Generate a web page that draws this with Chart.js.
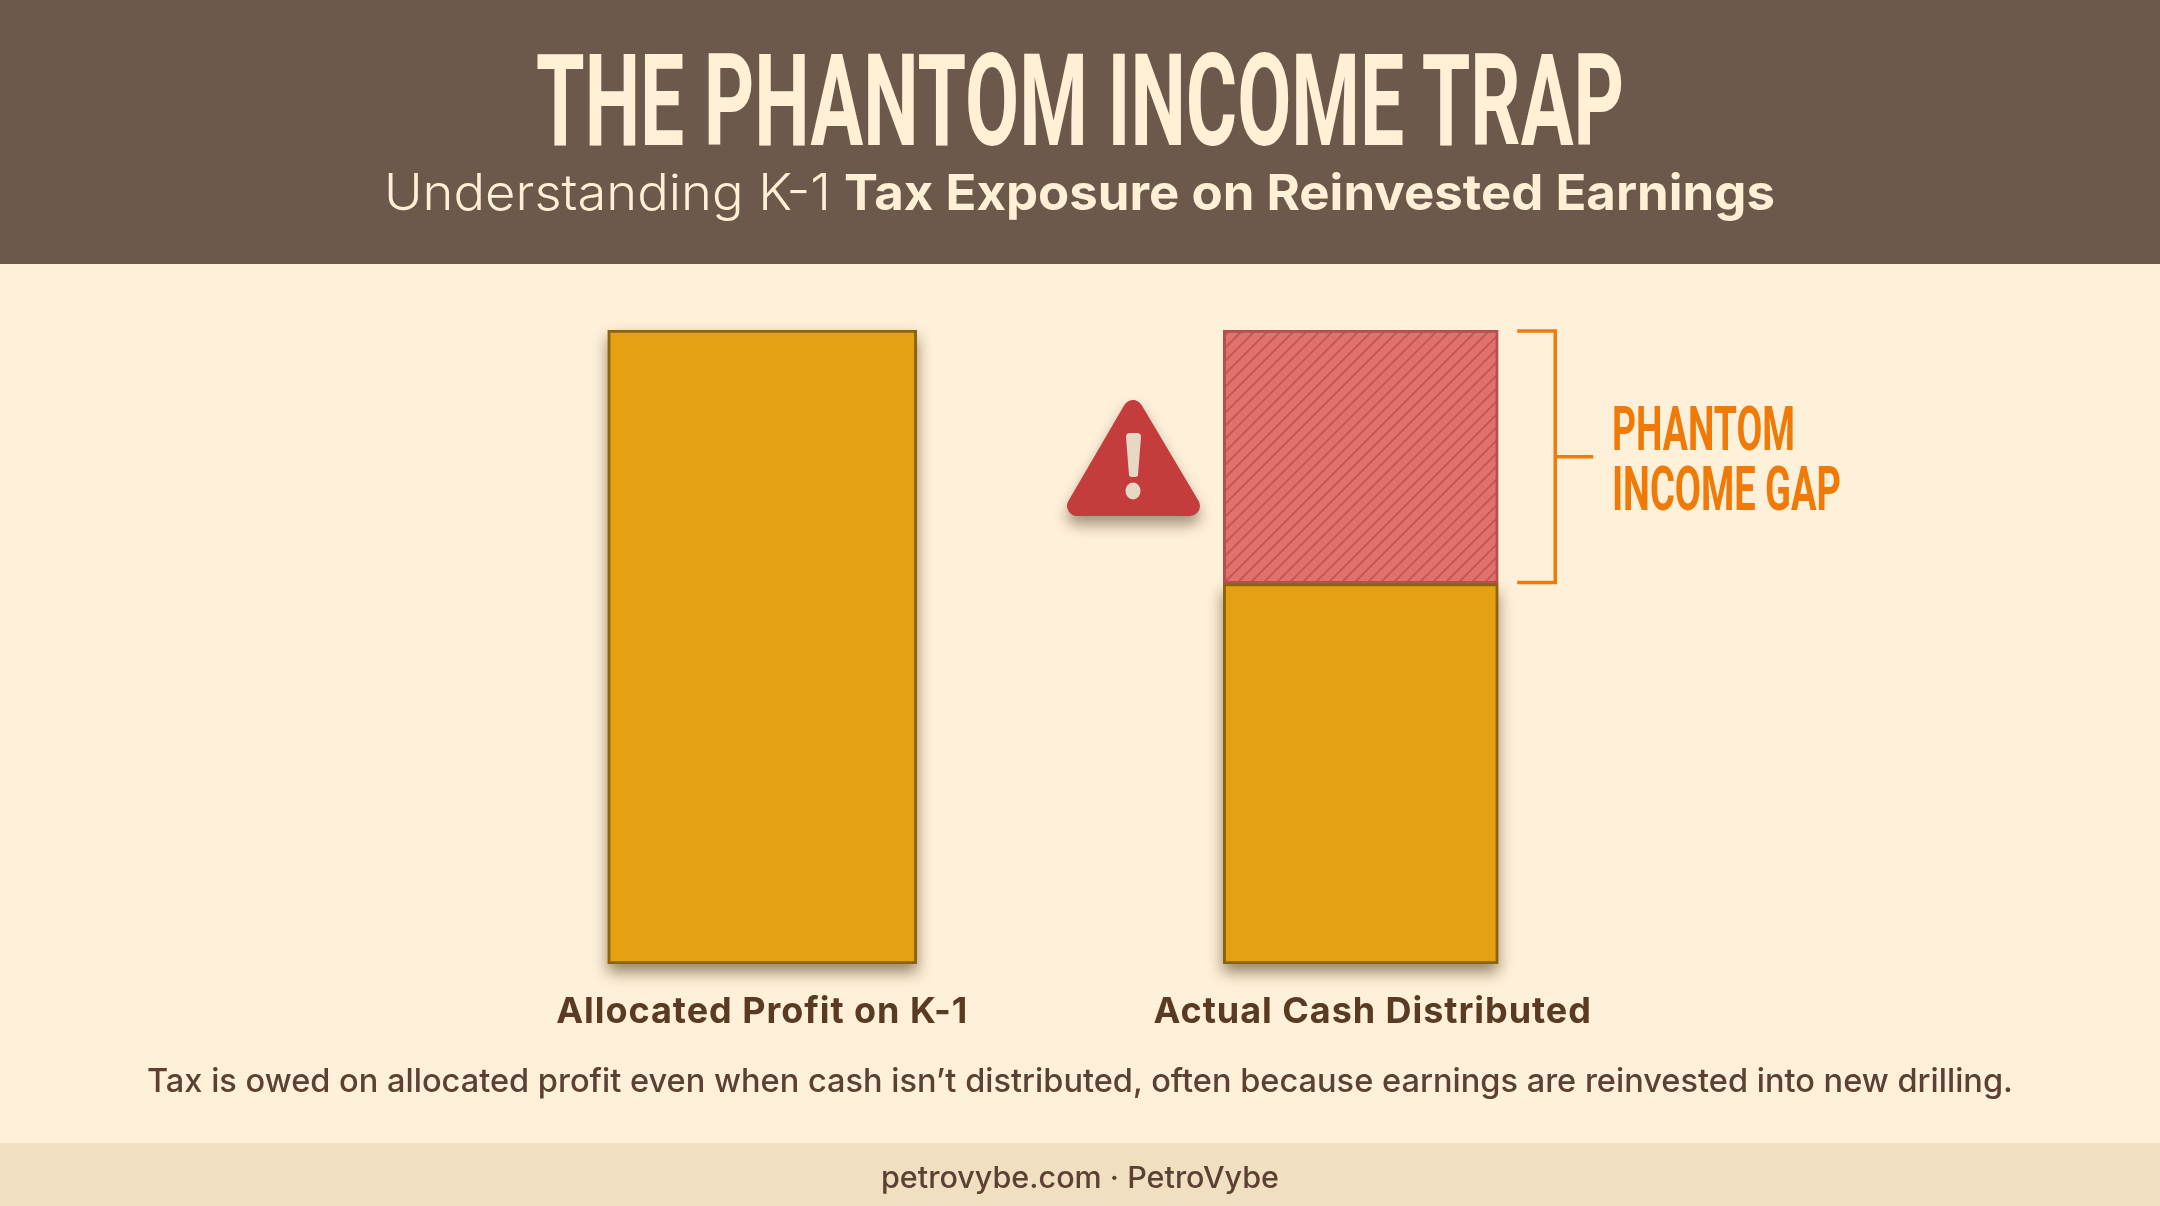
<!DOCTYPE html>
<html>
<head>
<meta charset="utf-8">
<script src="https://cdn.jsdelivr.net/npm/chart.js@4/dist/chart.umd.min.js"></script>
<style>
html, body { margin: 0; padding: 0; }
body { width: 2160px; height: 1206px; position: relative; overflow: hidden; background: #fef0d9; }
#header { position: absolute; left: 0; top: 0; width: 2160px; height: 264px; background: #6d594b; }
#footer { position: absolute; left: 0; top: 1143px; width: 2160px; height: 63px; background: #f0dfc0; }
#phantomChart { position: absolute; left: 0; top: 0; }
.t { position: absolute; white-space: nowrap; line-height: 1; transform-origin: left top; }
#title { left: 536px; top: 37px; font: 700 128px/1 Roboto; color: #fff0d6; }
#subLight { left: 384px; top: 167px; font: 300 50px/1 Inter; color: #fff0d6; }
#subBold { left: 844px; top: 167px; font: 700 50px/1 Inter; color: #fff0d6; }
#gap1 { left: 1612px; top: 398px; font: 700 62px/1 Roboto; color: #ef7a07; }
#gap2 { left: 1612px; top: 458px; font: 700 62px/1 Roboto; color: #ef7a07; }
#caption { left: 147px; top: 1064px; font: 500 33px/1 Inter; color: #5c4033; }
#site { left: 881px; top: 1162px; font: 500 30px/1 Inter; color: #5c4033; }
#warning { position: absolute; left: 1050px; top: 385px; filter: drop-shadow(0 9px 7px rgba(60,40,20,.45)); }
</style>
</head>
<body>
<div id="header"></div>
<div id="footer"></div>
<canvas id="phantomChart" width="2160" height="1206"></canvas>
<div class="t" id="title" data-w="1088">THE PHANTOM INCOME TRAP</div>
<div class="t" id="subLight" data-w="447">Understanding K-1</div>
<div class="t" id="subBold" data-w="931">Tax Exposure on Reinvested Earnings</div>
<div class="t" id="gap1" data-w="183">PHANTOM</div>
<div class="t" id="gap2" data-w="229">INCOME GAP</div>
<div class="t" id="caption" data-w="1866">Tax is owed on allocated profit even when cash isn’t distributed, often because earnings are reinvested into new drilling.</div>
<div class="t" id="site" data-w="398">petrovybe.com · PetroVybe</div>
<svg id="warning" width="170" height="160" viewBox="1050 385 170 160">
  <polygon points="1133,410 1077,506 1190,506" fill="#c43c3c" stroke="#c43c3c" stroke-width="20" stroke-linejoin="round"/>
  <path d="M1126,437 q0,-4 4,-4 h7 q4,0 4,4 l-3,38 q0,2 -4.5,2 t-4.5,-2 z" fill="#e6d8c4"/>
  <ellipse cx="1133" cy="491" rx="7.5" ry="8.5" fill="#e6d8c4"/>
</svg>
<script>
// Chart data
var categories = ['Allocated Profit on K-1', 'Actual Cash Distributed'];
var allocatedValues = [100, null];
var distributedValues = [null, 60];
var gapValues = [null, 40];

// The second label sits slightly right of its bar in the original.
var labelPositions = [0, 1.02];

// Squeeze each text line to the width it has in the original.
document.querySelectorAll('.t').forEach(function (el) {
    var w = el.getBoundingClientRect().width;
    el.style.transform = 'scaleX(' + (el.dataset.w / w) + ')';
});

// Diagonal hatch fill for the gap segment.
function makeHatch() {
    var tile = document.createElement('canvas');
    tile.width = 13;
    tile.height = 13;
    var c = tile.getContext('2d');
    c.fillStyle = '#e2716e';
    c.fillRect(0, 0, 13, 13);
    c.strokeStyle = '#c25553';
    c.lineWidth = 1.8;
    c.beginPath();
    c.moveTo(-3, 3); c.lineTo(3, -3);
    c.moveTo(-3, 16); c.lineTo(16, -3);
    c.moveTo(10, 16); c.lineTo(16, 10);
    c.stroke();
    return c.createPattern(tile, 'repeat');
}

// Drop shadow under the gold bars. The bar element clips itself to its own
// box when it has a border, so the shadow has to go down first.
var barShadow = {
    id: 'barShadow',
    beforeDatasetsDraw: function (chart) {
        var ctx = chart.ctx;
        ctx.save();
        ctx.fillStyle = '#e6a112';
        ctx.shadowColor = 'rgba(60,40,10,0.55)';
        ctx.shadowBlur = 14;
        ctx.shadowOffsetY = 8;
        [0, 1].forEach(function (i) {
            chart.getDatasetMeta(i).data.forEach(function (bar) {
                if (isNaN(bar.y) || bar.y === bar.base) return;
                ctx.fillRect(bar.x - bar.width / 2, bar.y, bar.width, bar.base - bar.y);
            });
        });
        ctx.restore();
    }
};

// Bracket next to the gap segment, taken from the bar element itself.
var gapBracket = {
    id: 'gapBracket',
    afterDatasetsDraw: function (chart) {
        var bar = chart.getDatasetMeta(2).data[1];
        var right = bar.x + bar.width / 2;
        var mid = (bar.y + bar.base) / 2;
        var ctx = chart.ctx;
        ctx.save();
        ctx.strokeStyle = '#ef7a07';
        ctx.lineWidth = 3.5;
        ctx.beginPath();
        ctx.moveTo(right + 19, bar.y + 1);
        ctx.lineTo(right + 57, bar.y + 1);
        ctx.lineTo(right + 57, bar.base - 1);
        ctx.lineTo(right + 19, bar.base - 1);
        ctx.moveTo(right + 57, mid);
        ctx.lineTo(right + 95, mid);
        ctx.stroke();
        ctx.restore();
    }
};

// Tick labels need a little tracking to reach the original width.
var labelTracking = {
    id: 'labelTracking',
    beforeDraw: function (chart) {
        chart.ctx.letterSpacing = '0.95px';
    }
};

var chart = new Chart(document.getElementById('phantomChart').getContext('2d'), {
    type: 'bar',
    data: {
        labels: categories,
        datasets: [
            { label: 'Allocated profit', data: allocatedValues, backgroundColor: '#e6a112', borderColor: '#8a6410', borderWidth: 3, borderSkipped: false, barThickness: 309 },
            { label: 'Cash distributed', data: distributedValues, backgroundColor: '#e6a112', borderColor: '#8a6410', borderWidth: 3, borderSkipped: false, barThickness: 275 },
            { label: 'Phantom income gap', data: gapValues, backgroundColor: makeHatch(), borderColor: '#b5504c', borderWidth: 3, borderSkipped: false, barThickness: 275 }
        ]
    },
    options: {
        responsive: false,
        animation: false,
        layout: { padding: { left: 463, right: 500, top: 330, bottom: 0 } },
        plugins: { legend: { display: false }, tooltip: { enabled: false } },
        scales: {
            x: { stacked: true, display: false },
            y: { stacked: true, display: false, min: 0, max: 100 },
            xLabels: {
                type: 'linear',
                axis: 'x',
                position: 'bottom',
                offset: false,
                min: -0.5,
                max: 1.5,
                grid: { display: false },
                border: { display: false },
                afterBuildTicks: function (axis) {
                    axis.ticks = labelPositions.map(function (v) { return { value: v }; });
                },
                afterFit: function (axis) {
                    axis.height = 242;
                },
                ticks: {
                    autoSkip: false,
                    maxRotation: 0,
                    padding: 19,
                    color: '#5a3a22',
                    font: { family: 'Inter', weight: '700', size: 36 },
                    callback: function (value, index) { return categories[index]; }
                }
            }
        }
    },
    plugins: [barShadow, gapBracket, labelTracking]
});
</script>
</body>
</html>
